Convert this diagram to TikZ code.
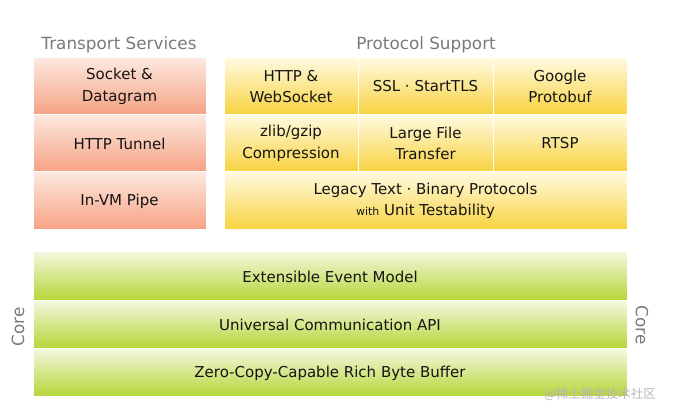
\documentclass[tikz,border=0pt]{standalone}
\usepackage{fontspec}
\setmainfont{DejaVu Sans}
\newfontfamily\cjkfont{Noto Sans CJK SC}
\usetikzlibrary{positioning}
\definecolor{txt}{HTML}{141414}
\definecolor{ttl}{HTML}{7A7A7A}
\definecolor{salT}{HTML}{FDE8DF}
\definecolor{salM}{HTML}{FBC9B5}
\definecolor{salB}{HTML}{F6A283}
\definecolor{yelT}{HTML}{FFFAE0}
\definecolor{yelM}{HTML}{FCEB96}
\definecolor{yelB}{HTML}{F8D23E}
\definecolor{grnT}{HTML}{F3F8DE}
\definecolor{grnM}{HTML}{D9EA92}
\definecolor{grnB}{HTML}{B5D535}
\tikzset{
  cell/.style={draw=white, line width=1pt, inner sep=0pt, align=center,
    text=txt, font=\fontsize{15}{21.5}\selectfont},
  salcell/.style={cell, top color=salT, middle color=salM, bottom color=salB},
  yelcell/.style={cell, top color=yelT, middle color=yelM, bottom color=yelB},
  grncell/.style={cell, top color=grnT, middle color=grnM, bottom color=grnB},
  title/.style={text=ttl, font=\fontsize{16.8}{20}\selectfont, inner sep=0pt},
}
\begin{document}
\begin{tikzpicture}[x=1pt,y=1pt]
\useasboundingbox (0,0) rectangle (677,414);
% Transport services
\node[title] (tt) at (119,369.5) {Transport Services};
\node[salcell, minimum width=173, minimum height=57] (s1) at (119.5,327.5) {Socket \&\\Datagram};
\node[salcell, minimum width=173, minimum height=57] (s2) at (119.5,270.5) {HTTP Tunnel};
\node[salcell, minimum width=173, minimum height=58] (s3) at (119.5,213) {In-VM Pipe};
% Protocol support
\node[title] (pt) at (426,369.5) {Protocol Support};
\node[yelcell, minimum width=134, minimum height=57] (p11) at (291,327.5) {HTTP \&\\WebSocket};
\node[yelcell, minimum width=135, minimum height=57] (p12) at (425.5,327.5) {SSL · StartTLS};
\node[yelcell, minimum width=134, minimum height=57] (p13) at (560,327.5) {Google\\Protobuf};
\node[yelcell, minimum width=134, minimum height=57] (p21) at (291,270.5) {zlib/gzip\\Compression};
\node[yelcell, minimum width=135, minimum height=57] (p22) at (425.5,270.5) {Large File\\Transfer};
\node[yelcell, minimum width=134, minimum height=57] (p23) at (560,270.5) {RTSP};
\node[yelcell, minimum width=403, minimum height=58] (p3) at (425.5,213) {Legacy Text · Binary Protocols\\{\fontsize{11}{12}\selectfont with} Unit Testability};
% Core
\node[grncell, minimum width=594, minimum height=49] (c1) at (330,137.5) {Extensible Event Model};
\node[grncell, minimum width=594, minimum height=48] (c2) at (330,89) {Universal Communication API};
\node[grncell, minimum width=594, minimum height=48] (c3) at (330,41) {Zero-Copy-Capable Rich Byte Buffer};
\node[title, rotate=90] (cl) at (18,87) {Core};
\node[title, rotate=-90] (cr) at (642,89) {Core};
% watermark
\node[text=black!28, font=\cjkfont\fontsize{12.5}{14}\selectfont, inner sep=0pt] (wm) at (600,20) {@稀土掘金技术社区};
\end{tikzpicture}
\end{document}
